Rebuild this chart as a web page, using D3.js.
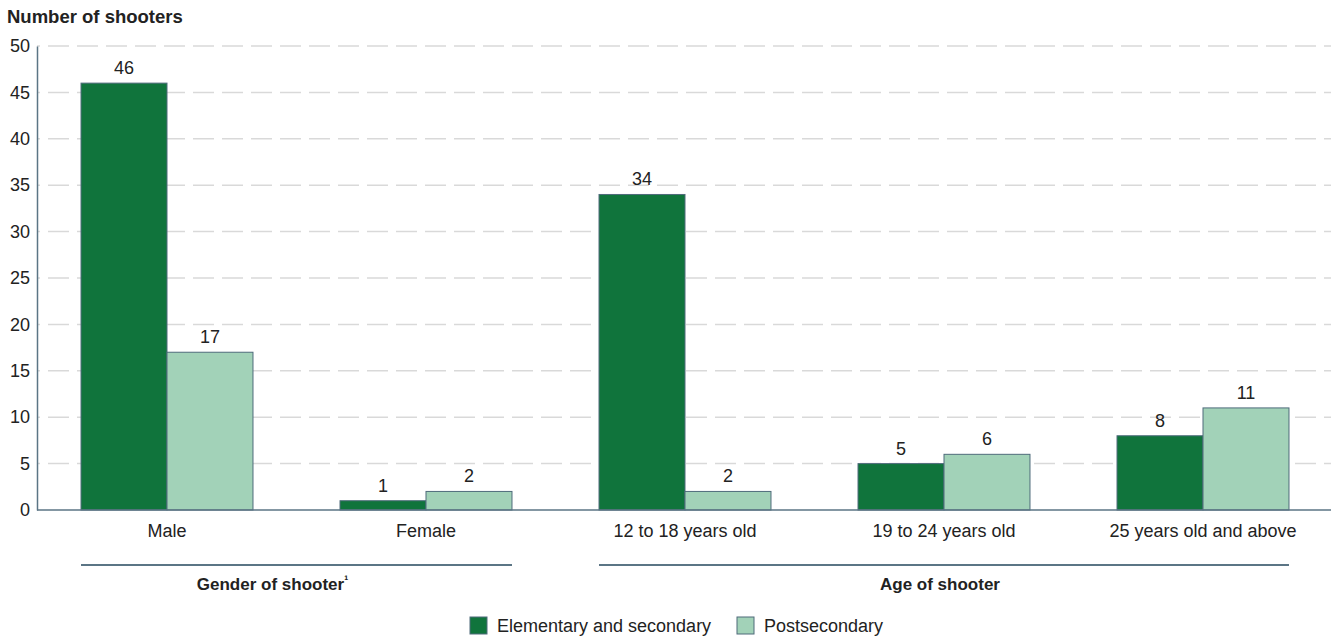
<!DOCTYPE html>
<html>
<head>
<meta charset="utf-8">
<script src="https://cdn.jsdelivr.net/npm/d3@7"></script>
<style>
  body { margin: 0; background: #fff; }
  svg { display: block; font-family: "Liberation Sans", Arial, sans-serif; }
</style>
</head>
<body>
<svg id="chart" width="1331" height="644"></svg>
<script>
// Shooters by school level, split by gender and age group
const categories = ["Male", "Female", "12 to 18 years old", "19 to 24 years old", "25 years old and above"];
const seriesNames = ["Elementary and secondary", "Postsecondary"];
const elementary = [46, 1, 34, 5, 8];
const postsecondary = [17, 2, 2, 6, 11];
const yTicks = [0, 5, 10, 15, 20, 25, 30, 35, 40, 45, 50];
const groups = [
  { label: "Gender of shooter", sup: "¹", from: "Male", to: "Female", dx: -24 },
  { label: "Age of shooter", sup: "", from: "12 to 18 years old", to: "25 years old and above", dx: -4 }
];

const colors = ["#10743c", "#a2d2b8"];
const svg = d3.select("#chart");

const plotLeft = 37, plotRight = 1332.5, plotTop = 46, plotBottom = 510;

const x = d3.scaleBand().domain(categories).range([plotLeft + 0.5, plotRight])
  .paddingInner(0.336).paddingOuter(0.168);
const xs = d3.scaleBand().domain(seriesNames).range([0, x.bandwidth()]);
const y = d3.scaleLinear().domain([0, 50]).range([plotBottom, plotTop]);

// Dashed gridlines
svg.append("g").selectAll("line").data(yTicks.filter(d => d > 0)).join("line")
  .attr("x1", plotLeft).attr("x2", 1331)
  .attr("y1", d => y(d)).attr("y2", d => y(d))
  .attr("stroke", "#d9d9d9").attr("stroke-width", 1.5)
  .attr("stroke-dasharray", "21,8").attr("stroke-dashoffset", 18);

// Y axis
const yAxis = svg.append("g").attr("transform", `translate(${plotLeft},0)`)
  .call(d3.axisLeft(y).tickValues(yTicks).tickSize(0).tickPadding(7));
yAxis.select(".domain").attr("stroke", "#5b7585").attr("stroke-width", 1.5);
yAxis.selectAll("text").attr("font-size", 18).attr("fill", "#222")
  .attr("font-family", "'Liberation Sans', Arial, sans-serif");

// Bars
const rows = categories.map((c, i) => ({ cat: c, vals: [elementary[i], postsecondary[i]] }));
const g = svg.append("g").selectAll("g").data(rows).join("g")
  .attr("transform", d => `translate(${x(d.cat)},0)`);
g.selectAll("rect").data(d => d.vals.map((v, j) => ({ v, s: seriesNames[j], j }))).join("rect")
  .attr("x", d => xs(d.s)).attr("width", xs.bandwidth())
  .attr("y", d => y(d.v)).attr("height", d => y(0) - y(d.v))
  .attr("fill", d => colors[d.j]).attr("stroke", "#4f6b7b").attr("stroke-width", 1);
g.selectAll("text.val").data(d => d.vals.map((v, j) => ({ v, s: seriesNames[j] }))).join("text")
  .attr("class", "val")
  .attr("x", d => xs(d.s) + xs.bandwidth() / 2).attr("y", d => y(d.v) - 9)
  .attr("text-anchor", "middle").attr("font-size", 18).attr("fill", "#222")
  .text(d => d.v);

// Baseline
svg.append("line").attr("x1", plotLeft).attr("x2", 1331).attr("y1", plotBottom).attr("y2", plotBottom)
  .attr("stroke", "#5b7585").attr("stroke-width", 1.5);

// Category labels
svg.append("g").selectAll("text").data(categories).join("text")
  .attr("x", d => x(d) + x.bandwidth() / 2).attr("y", 537)
  .attr("text-anchor", "middle").attr("font-size", 18).attr("fill", "#222")
  .text(d => d);

// Group brackets
groups.forEach(gr => {
  const x1 = x(gr.from), x2 = x(gr.to) + x.bandwidth();
  svg.append("line").attr("x1", x1).attr("x2", x2).attr("y1", 565).attr("y2", 565)
    .attr("stroke", "#5b7585").attr("stroke-width", 2);
  const t = svg.append("text").attr("x", (x1 + x2) / 2 + gr.dx).attr("y", 590)
    .attr("text-anchor", "middle").attr("font-size", 17).attr("font-weight", "bold").attr("fill", "#222");
  t.append("tspan").text(gr.label);
  if (gr.sup) t.append("tspan").attr("font-size", 12).attr("dy", -6).text(gr.sup);
});

// Y axis title
svg.append("text").attr("x", 7).attr("y", 23).attr("font-size", 18.5).attr("font-weight", "bold")
  .attr("fill", "#222").text("Number of shooters");

// Legend
const legendX = [470, 737];
const lg = svg.append("g").selectAll("g").data(seriesNames).join("g")
  .attr("transform", (d, i) => `translate(${legendX[i]},617)`);
lg.append("rect").attr("width", 17).attr("height", 17)
  .attr("fill", (d, i) => colors[i]).attr("stroke", "#4f6b7b").attr("stroke-width", 1);
lg.append("text").attr("x", 27).attr("y", 15).attr("font-size", 18).attr("fill", "#222").text(d => d);
</script>
</body>
</html>
